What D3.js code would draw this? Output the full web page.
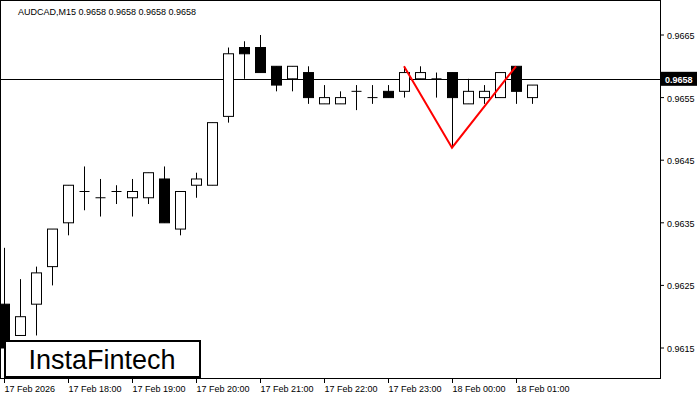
<!DOCTYPE html>
<html><head><meta charset="utf-8">
<script src="https://cdn.jsdelivr.net/npm/d3@7"></script>
<style>body{margin:0;background:#fff}text{font-family:"Liberation Sans",Arial,sans-serif}</style>
</head><body><svg id="c" width="700" height="400"></svg>
<script>
const opens  = [.9622,.9617,.9622,.9628,.9635,.9640,.9639,.9640,.9639,.9639,.9642,.9634,.9641,.9641,.9652,.9663,.9663,.9660,.9658,.9659,.9654,.9654,.9656,.9655,.9656,.9656,.9658,.9658,.9659,.9654,.9655,.9655,.9660,.9655];
const highs  = [.9631,.9626,.9628,.9634,.9641,.9644,.9642,.9641,.9642,.9643,.9644,.9640,.9643,.9651,.9663,.9664,.9665,.9660,.9660,.9660,.9657,.9656,.9657,.9657,.9657,.9660,.9660,.9659,.9659,.9658,.9657,.9659,.9660,.9657];
const lows   = [.9614,.9617,.9617,.9625,.9633,.9637,.9636,.9638,.9636,.9638,.9635,.9633,.9639,.9641,.9651,.9658,.9659,.9656,.9656,.9654,.9654,.9654,.9653,.9654,.9655,.9655,.9658,.9655,.9647,.9654,.9654,.9655,.9654,.9654];
const closes = [.9615,.9620,.9627,.9634,.9641,.9640,.9639,.9640,.9640,.9643,.9635,.9640,.9642,.9651,.9662,.9662,.9659,.9657,.9660,.9655,.9655,.9655,.9656,.9655,.9655,.9659,.9659,.9658,.9655,.9656,.9656,.9659,.9656,.9657];
const priceTicks = [0.9615, 0.9625, 0.9635, 0.9645, 0.9655, 0.9665];
const timeLabels = ["17 Feb 2026","17 Feb 18:00","17 Feb 19:00","17 Feb 20:00","17 Feb 21:00","17 Feb 22:00","17 Feb 23:00","18 Feb 00:00","18 Feb 01:00"];
const current = 0.9658;
const pattern = [[25, 0.9660], [28, 0.9647], [32, 0.9660]];

const svg = d3.select('#c');
const x = d3.scaleLinear().domain([0, 33]).range([4, 532]);
const y = d3.scaleLinear().domain([0.9615, 0.9665]).range([348, 35]);
const right = 660, bottom = 378;

svg.append('rect').attr('x', 0.5).attr('y', 0.5).attr('width', right).attr('height', bottom)
    .attr('fill', 'none').attr('stroke', '#000');

svg.append('line').attr('x1', 0).attr('x2', right).attr('y1', Math.round(y(current)) + 0.5).attr('y2', Math.round(y(current)) + 0.5)
    .attr('stroke', '#000');

const g = svg.append('g');
closes.forEach((c, i) => {
    const cx = Math.round(x(i)) + 0.5;
    g.append('line').attr('x1', cx).attr('x2', cx).attr('y1', y(highs[i])).attr('y2', y(lows[i])).attr('stroke', '#000');
    const top = y(Math.max(opens[i], c)), bot = y(Math.min(opens[i], c));
    if (Math.abs(bot - top) < 1) {
        g.append('line').attr('x1', cx - 5).attr('x2', cx + 5).attr('y1', top).attr('y2', top).attr('stroke', '#000');
    } else {
        g.append('rect').attr('x', cx - 5).attr('y', top).attr('width', 10).attr('height', bot - top)
            .attr('fill', c < opens[i] ? '#000' : '#fff').attr('stroke', '#000');
    }
});

svg.append('path')
    .attr('d', d3.line().x(d => x(d[0])).y(d => y(d[1]))(pattern))
    .attr('fill', 'none').attr('stroke', '#ff0000').attr('stroke-width', 2);

// right axis
priceTicks.forEach(p => {
    svg.append('line').attr('x1', right).attr('x2', right + 4).attr('y1', y(p)).attr('y2', y(p)).attr('stroke', '#000');
    svg.append('text').attr('x', 667).attr('y', y(p) + 4).attr('font-size', 9).text(p.toFixed(4));
});
svg.append('rect').attr('x', 661).attr('y', y(current) - 7).attr('width', 36).attr('height', 14).attr('fill', '#000');
svg.append('text').attr('x', 665).attr('y', y(current) + 4).attr('font-size', 9).attr('font-weight', 'bold')
    .attr('fill', '#fff').text(current.toFixed(4));

// bottom axis
timeLabels.forEach((t, k) => {
    const tx = Math.round(x(k * 4)) + 0.5;
    svg.append('line').attr('x1', tx).attr('x2', tx).attr('y1', bottom).attr('y2', bottom + 5).attr('stroke', '#000');
    svg.append('text').attr('x', tx).attr('y', 392).attr('font-size', 9).text(t);
});

svg.append('text').attr('x', 18).attr('y', 15).attr('font-size', 9)
    .text('AUDCAD,M15  0.9658 0.9658 0.9658 0.9658');

svg.append('rect').attr('x', 5).attr('y', 341).attr('width', 195).attr('height', 36)
    .attr('fill', '#fff').attr('stroke', '#000').attr('stroke-width', 2);
svg.append('text').attr('x', 102).attr('y', 369).attr('text-anchor', 'middle')
    .attr('font-size', 27).attr('font-family', 'Roboto').attr('font-weight', 500).text('InstaFintech');
</script></body></html>
